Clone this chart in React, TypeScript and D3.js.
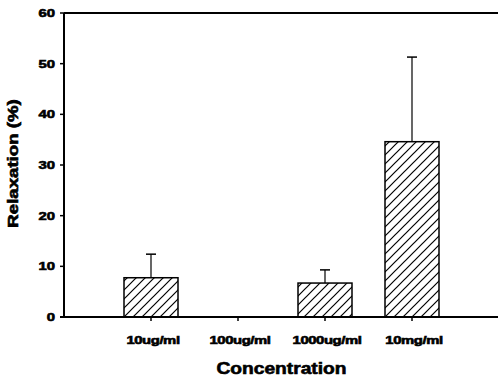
import React from "react";
import * as d3 from "d3";

const categories = ["10ug/ml", "100ug/ml", "1000ug/ml", "10mg/ml"];
const values = [7.75, 0, 6.7, 34.6];
const errors = [4.65, 0, 2.6, 16.7];
const yTicks = [0, 10, 20, 30, 40, 50, 60];

export default function App() {
  const W = 498, H = 381;
  const left = 64, right = 499, top = 13, bottom = 317;
  const x = d3.scaleLinear().domain([0, categories.length + 1]).range([left, right]);
  const y = d3.scaleLinear().domain([0, 60]).range([bottom, top]);
  const barW = 54;
  const font = "'Liberation Sans', Arial, sans-serif";
  return (
    <svg width={W} height={H} style={{ position: "absolute", left: 0, top: 0 }}>
      <defs>
        <pattern id="hatch" patternUnits="userSpaceOnUse" width="9" height="9">
          <path d="M-2,11 L11,-2 M-2,2 L2,-2 M7,11 L11,7" stroke="#000" strokeWidth="1.2" />
        </pattern>
      </defs>
      <rect width={W} height={H} fill="#fff" />
      {values.map((v, i) =>
        v > 0 ? (
          <g key={i}>
            <line x1={x(i + 1)} x2={x(i + 1)} y1={y(v)} y2={y(v + errors[i])} stroke="#000" strokeWidth={1.2} />
            <line x1={x(i + 1) - 5} x2={x(i + 1) + 5} y1={y(v + errors[i])} y2={y(v + errors[i])} stroke="#000" strokeWidth={1.5} />
            <rect x={x(i + 1) - barW / 2} y={y(v)} width={barW} height={bottom - y(v)} fill="url(#hatch)" stroke="#000" strokeWidth={1.5} />
          </g>
        ) : null
      )}
      <line x1={left} x2={left} y1={top} y2={bottom} stroke="#000" strokeWidth={2} />
      <line x1={left - 4} x2={right} y1={bottom} y2={bottom} stroke="#000" strokeWidth={2} />
      <line x1={left} x2={right} y1={top} y2={top} stroke="#000" strokeWidth={2} />
      <g fontFamily={font} fontWeight="bold" stroke="#000" strokeWidth={0.6}>
        {yTicks.map((t) => (
          <g key={t}>
            <line x1={left - 4} x2={left} y1={y(t)} y2={y(t)} stroke="#000" strokeWidth={1.5} />
            <text transform={`translate(${left - 9},${y(t) + 4}) scale(1.35,1)`} textAnchor="end" fontSize={11}>
              {t}
            </text>
          </g>
        ))}
        {categories.map((c, i) => (
          <g key={c}>
            <line x1={x(i + 1)} x2={x(i + 1)} y1={bottom} y2={bottom + 4} stroke="#000" strokeWidth={1.5} />
            <text transform={`translate(${x(i + 1) + 2},343.5) scale(1.35,1)`} textAnchor="middle" fontSize={11} letterSpacing={-0.3}>
              {c}
            </text>
          </g>
        ))}
        <text transform="translate(281.5,373.5) scale(1.2,1)" textAnchor="middle" fontSize={16}>
          Concentration
        </text>
        <text transform="translate(17.5,163.5) rotate(-90) scale(1.33,1)" textAnchor="middle" fontSize={14}>
          Relaxation (%)
        </text>
      </g>
    </svg>
  );
}
